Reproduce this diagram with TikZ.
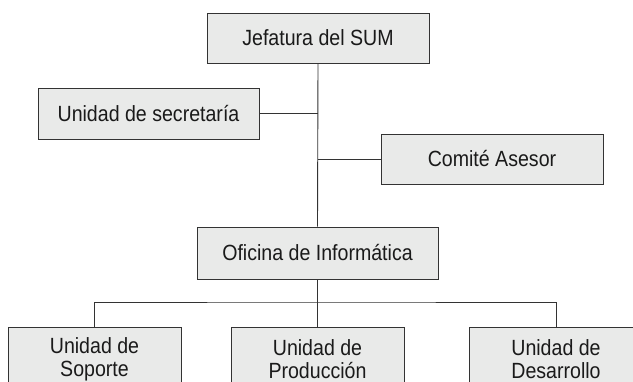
\documentclass[tikz,border=0pt]{standalone}
\usepackage{fontspec}
\setmainfont[FakeStretch=0.89]{Liberation Sans}
\definecolor{boxfill}{HTML}{E9EAE9}
\definecolor{boxline}{HTML}{333333}
\definecolor{txt}{HTML}{1A1A1A}
\begin{document}
\begin{tikzpicture}[x=1pt,y=-1pt,
  orgbox/.style={draw=boxline,fill=boxfill,line width=0.9pt,rectangle,inner sep=0pt,
    text=txt,font=\fontsize{22}{23}\selectfont,align=center},
  link/.style={draw=boxline,line width=0.9pt}]
\useasboundingbox (0,0) rectangle (633,382);
\clip (0,0) rectangle (633,382);
\node[orgbox,minimum width=222pt,minimum height=50pt] (jef) at (318,38) {Jefatura del SUM};
\node[orgbox,minimum width=221pt,minimum height=51pt] (sec) at (148.5,113.5) {Unidad de secretaría};
\node[orgbox,minimum width=222pt,minimum height=50pt] (com) at (492,159) {Comité Asesor};
\node[orgbox,minimum width=241pt,minimum height=52pt] (ofi) at (317.5,253) {Oficina de Informática};
\node[orgbox,minimum width=173pt,minimum height=64pt] (sop) at (94.5,359) {Unidad de\\Soporte};
\node[orgbox,minimum width=173pt,minimum height=64pt] (pro) at (317.5,359) {Unidad de\\Producción};
\node[orgbox,minimum width=173pt,minimum height=64pt] (des) at (556,359) {Unidad de\\Desarrollo};
\coordinate (bus) at (317.5,302);
\draw[link] (jef.south) -- (ofi.north);
\draw[link] (sec.east) -- (sec.east -| jef.south);
\draw[link] (com.west) -- (com.west -| jef.south);
\draw[link] (ofi.south) -- (pro.north);
\draw[link] (sop.north) |- (bus) -| (des.north);
\end{tikzpicture}
\end{document}
